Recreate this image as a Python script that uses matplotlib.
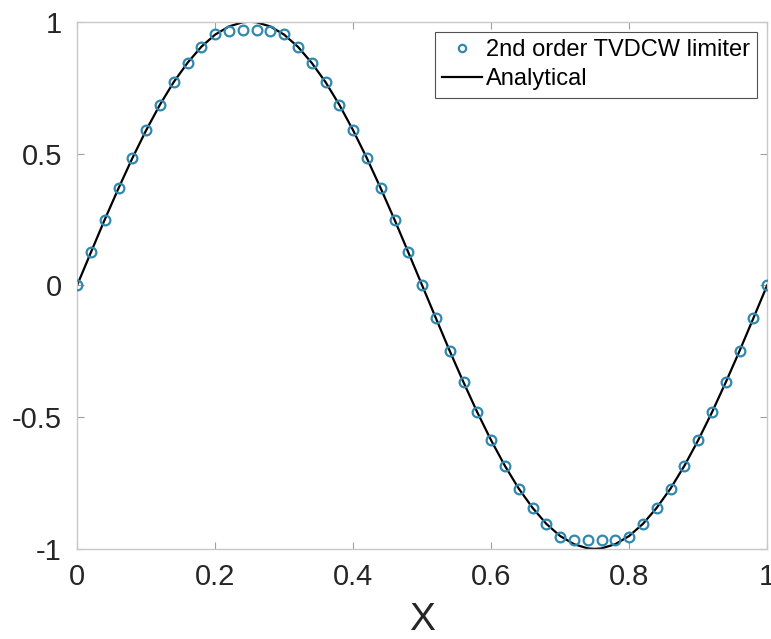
import matplotlib
matplotlib.use('Agg')
from matplotlib import pyplot as plt

# numerical solution (x step 0.02)
x_num = [0.00, 0.02, 0.04, 0.06, 0.08, 0.10, 0.12, 0.14, 0.16, 0.18,
         0.20, 0.22, 0.24, 0.26, 0.28, 0.30, 0.32, 0.34, 0.36, 0.38,
         0.40, 0.42, 0.44, 0.46, 0.48, 0.50, 0.52, 0.54, 0.56, 0.58,
         0.60, 0.62, 0.64, 0.66, 0.68, 0.70, 0.72, 0.74, 0.76, 0.78,
         0.80, 0.82, 0.84, 0.86, 0.88, 0.90, 0.92, 0.94, 0.96, 0.98, 1.00]
y_num = [0.000, 0.125, 0.249, 0.368, 0.482, 0.588, 0.685, 0.771, 0.844, 0.905,
         0.955, 0.965, 0.967, 0.967, 0.965, 0.955, 0.905, 0.844, 0.771, 0.685,
         0.588, 0.482, 0.368, 0.249, 0.125, 0.000, -0.125, -0.249, -0.368, -0.482,
         -0.588, -0.685, -0.771, -0.844, -0.905, -0.955, -0.965, -0.967, -0.967, -0.965,
         -0.955, -0.905, -0.844, -0.771, -0.685, -0.588, -0.482, -0.368, -0.249, -0.125, 0.000]

# analytical curve
x_ana = [0.00, 0.02, 0.04, 0.06, 0.08, 0.10, 0.12, 0.14, 0.16, 0.18,
         0.20, 0.22, 0.24, 0.25, 0.26, 0.28, 0.30, 0.32, 0.34, 0.36, 0.38,
         0.40, 0.42, 0.44, 0.46, 0.48, 0.50, 0.52, 0.54, 0.56, 0.58,
         0.60, 0.62, 0.64, 0.66, 0.68, 0.70, 0.72, 0.74, 0.75, 0.76, 0.78,
         0.80, 0.82, 0.84, 0.86, 0.88, 0.90, 0.92, 0.94, 0.96, 0.98, 1.00]
y_ana = [0.000, 0.125, 0.249, 0.368, 0.482, 0.588, 0.685, 0.771, 0.844, 0.905,
         0.951, 0.982, 0.998, 1.000, 0.998, 0.982, 0.951, 0.905, 0.844, 0.771, 0.685,
         0.588, 0.482, 0.368, 0.249, 0.125, 0.000, -0.125, -0.249, -0.368, -0.482,
         -0.588, -0.685, -0.771, -0.844, -0.905, -0.951, -0.982, -0.998, -1.000, -0.998, -0.982,
         -0.951, -0.905, -0.844, -0.771, -0.685, -0.588, -0.482, -0.368, -0.249, -0.125, 0.000]

x_ticks = [0, 0.2, 0.4, 0.6, 0.8, 1]
x_tick_labels = ['0', '0.2', '0.4', '0.6', '0.8', '1']
y_ticks = [-1, -0.5, 0, 0.5, 1]
y_tick_labels = ['-1', '-0.5', '0', '0.5', '1']

plt.rcParams['font.family'] = ['Liberation Sans', 'DejaVu Sans']

fig = plt.figure(figsize=(7.71, 6.39), dpi=100)
ax = fig.add_axes([0.1, 0.141, 0.895, 0.825])

ax.plot(x_num, y_num, 'o', markersize=7, markerfacecolor='none',
        markeredgecolor='#3088ae', markeredgewidth=1.6,
        label='2nd order TVDCW limiter', zorder=3)
ax.plot(x_ana, y_ana, '-', color='black', linewidth=1.6, label='Analytical', zorder=2)

ax.set_xlim(0, 1)
ax.set_ylim(-1, 1)
ax.set_xticks(x_ticks)
ax.set_xticklabels(x_tick_labels)
ax.set_yticks(y_ticks)
ax.set_yticklabels(y_tick_labels)
ax.tick_params(axis='both', direction='in', top=True, right=True, length=5, width=0.8,
               color='#a0a0a0', labelsize=21, labelcolor='#262626')
ax.tick_params(axis='x', pad=10)
ax.tick_params(axis='y', pad=11)
for s in ax.spines.values():
    s.set_color('#c8c8c8')
    s.set_linewidth(1.0)

ax.set_xlabel('X', fontsize=28, color='#262626', labelpad=8)

leg = ax.legend(loc='upper right', bbox_to_anchor=(0.985, 0.98), fontsize=17,
                frameon=True, fancybox=False, edgecolor='#262626',
                handlelength=1.7, handletextpad=0.15, borderpad=0.3,
                labelspacing=0.3, borderaxespad=0.0, markerscale=0.75)
leg.get_frame().set_linewidth(0.8)

plt.savefig('out.png', dpi=100)
